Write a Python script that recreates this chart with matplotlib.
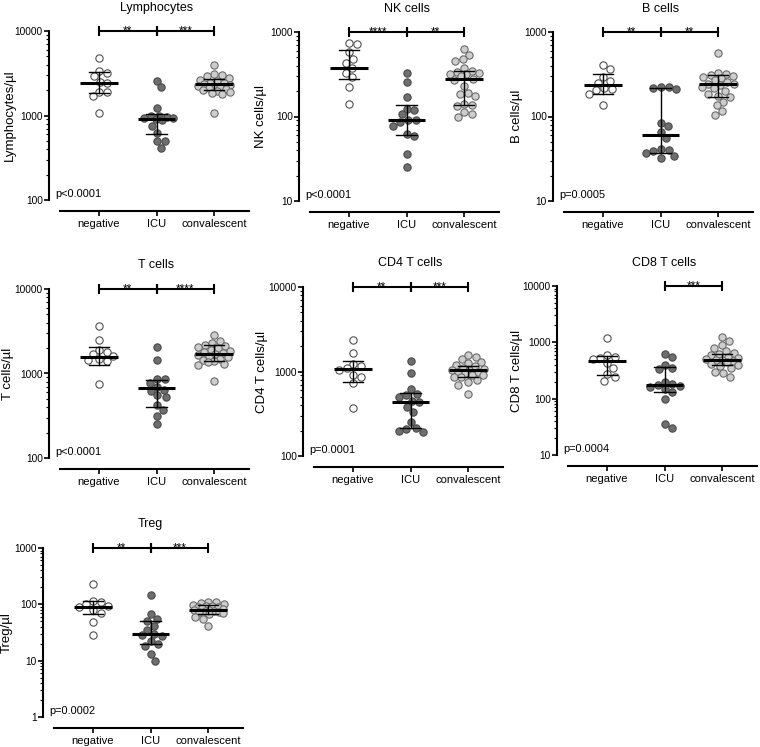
import numpy as np
import matplotlib
matplotlib.use("Agg")
import matplotlib.pyplot as plt
from matplotlib.ticker import LogLocator, NullFormatter, FuncFormatter

plt.rcParams['font.family'] = ['Liberation Sans', 'DejaVu Sans']

groups = ["negative", "ICU", "convalescent"]

titles = ["Lymphocytes", "NK cells", "B cells", "T cells", "CD4 T cells", "CD8 T cells", "Treg"]
ylabels = ["Lymphocytes/µl", "NK cells/µl", "B cells/µl", "T cells/µl",
           "CD4 T cells/µl", "CD8 T cells/µl", "Treg/µl"]
pvalues = ["p<0.0001", "p<0.0001", "p=0.0005", "p<0.0001", "p=0.0001", "p=0.0004", "p=0.0002"]
ylims = [(100, 10000), (10, 1000), (10, 1000), (100, 10000), (100, 10000), (10, 10000), (1, 1000)]
signif = [
    [(0, 1, "**"), (1, 2, "***")],
    [(0, 1, "****"), (1, 2, "**")],
    [(0, 1, "**"), (1, 2, "**")],
    [(0, 1, "**"), (1, 2, "****")],
    [(0, 1, "**"), (1, 2, "***")],
    [(1, 2, "***")],
    [(0, 1, "**"), (1, 2, "***")],
]

# ---- data (cells/µl) ----
lymph_neg = [4810, 3400, 3200, 2900, 2500, 2400, 1920, 1920, 1710, 1060]
lymph_icu = [2580, 2150, 1220, 1000, 980, 960, 940, 930, 900, 880, 750, 620, 500, 500, 417]
lymph_conv = [4000, 3100, 3000, 2900, 2750, 2650, 2550, 2450, 2400, 2350, 2300, 2250,
              2200, 2150, 2100, 2050, 2000, 1950, 1900, 1850, 1800, 1080]

nk_neg = [740, 725, 577, 480, 427, 372, 330, 295, 221, 139]
nk_icu = [324, 258, 171, 124, 118, 106, 92, 90, 86, 78, 62, 58, 36, 25]
nk_conv = [627, 536, 480, 458, 372, 345, 339, 330, 320, 315, 300, 280, 270, 229,
           190, 187, 174, 140, 136, 132, 113, 106, 100]

b_neg = [407, 361, 295, 265, 250, 215, 209, 205, 184, 136]
b_icu = [225, 222, 218, 212, 83, 78, 65, 56, 41, 40, 39, 37, 34, 32]
b_conv = [571, 330, 320, 310, 300, 290, 285, 270, 255, 245, 240, 235, 225, 215,
          200, 185, 175, 170, 150, 136, 116, 103]

t_neg = [3650, 2500, 1900, 1800, 1700, 1600, 1500, 1450, 1400, 760]
t_icu = [2070, 1440, 870, 850, 773, 700, 645, 620, 552, 527, 421, 366, 311, 250]
t_conv = [2850, 2440, 2300, 2200, 2100, 2050, 2000, 1900, 1850, 1800, 1750, 1700,
          1650, 1600, 1550, 1500, 1450, 1400, 1350, 1300, 1250, 811]

cd4_neg = [2370, 1670, 1230, 1150, 1100, 1050, 900, 850, 730, 372]
cd4_icu = [1330, 950, 620, 540, 520, 500, 450, 430, 380, 330, 250, 215, 210, 200, 190]
cd4_conv = [1580, 1500, 1400, 1300, 1250, 1200, 1150, 1100, 1080, 1050, 1030, 1000,
            980, 950, 920, 900, 870, 850, 800, 750, 700, 535]

cd8_neg = [1180, 600, 560, 530, 500, 430, 350, 270, 240, 202]
cd8_icu = [620, 560, 400, 350, 330, 200, 180, 175, 170, 160, 150, 130, 100, 35, 30]
cd8_conv = [1250, 1050, 900, 800, 700, 650, 620, 600, 550, 520, 500, 490, 480, 460,
            440, 420, 400, 380, 350, 300, 280, 240]

treg_neg = [226, 115, 110, 100, 92, 88, 78, 70, 49, 29]
treg_icu = [144, 66, 56, 50, 42, 35, 30, 28, 27, 22, 20, 18, 13, 10]
treg_conv = [112, 108, 105, 100, 98, 95, 92, 90, 88, 85, 82, 80, 78, 76, 75, 74,
             72, 70, 66, 60, 55, 42]

# median and interquartile range per group (negative, ICU, convalescent)
medians = [[2420, 908, 2360], [372, 90, 277], [235, 60, 240], [1585, 674, 1695],
           [1070, 430, 1030], [462, 177, 487], [90, 30, 80]]
q1s = [[1870, 596, 2010], [277, 61, 138], [184, 37, 171], [1260, 401, 1410],
       [757, 215, 868], [265, 131, 404], [66, 19.5, 68]]
q3s = [[3240, 1050, 2700], [615, 136, 345], [315, 215, 309], [2080, 849, 2170],
       [1330, 560, 1170], [566, 362, 622], [115, 51, 96]]

panel_data = [
    (lymph_neg, lymph_icu, lymph_conv),
    (nk_neg, nk_icu, nk_conv),
    (b_neg, b_icu, b_conv),
    (t_neg, t_icu, t_conv),
    (cd4_neg, cd4_icu, cd4_conv),
    (cd8_neg, cd8_icu, cd8_conv),
    (treg_neg, treg_icu, treg_conv),
]

# ---- layout (pixels) ----
W, H = 760, 747
DPI = 100
panel_pos = [(49, 31), (299, 32), (553, 32), (49, 289), (303, 287), (557, 286), (43, 548)]
label_off = [33, 32, 30, 35, 35, 34, 30]
AX_W = 200
AX_H = 169
CAT0 = 50.0
CAT_STEP = 57.5

face = ["white", "#6e6e6e", "#cdcdcd"]
edge = ["#505050", "#4a4a4a", "#6a6a6a"]

MARK_PX = 8.0
DIAM = 7.6
MAXOFF = 16.0


def swarm(vals, ylo, yhi, height_px):
    ys = (np.log10(vals) - np.log10(ylo)) / (np.log10(yhi) - np.log10(ylo)) * height_px
    order = np.argsort(-ys)
    placed = []
    xs = np.zeros(len(vals))
    cand = [0.0]
    k = 1
    while k * 0.5 <= MAXOFF:
        cand += [k * 0.5, -k * 0.5]
        k += 1
    for i in order:
        chosen = None
        best, bestd = 0.0, -1.0
        for c in cand:
            d = min([np.hypot(c - px, ys[i] - py) for px, py in placed] + [1e9])
            if d >= DIAM:
                chosen = c
                break
            if d > bestd + 0.3:
                best, bestd = c, d
        if chosen is None:
            chosen = best
        xs[i] = chosen
        placed.append((chosen, ys[i]))
    return xs


fig = plt.figure(figsize=(W / DPI, H / DPI), dpi=DPI)

for p in range(7):
    sx, top = panel_pos[p]
    ax = fig.add_axes([sx / W, 1 - (top + AX_H) / H, AX_W / W, AX_H / H])
    ylo, yhi = ylims[p]
    ax.set_yscale("log")
    ax.set_ylim(ylo, yhi)
    xl = (-CAT0 / CAT_STEP, (AX_W - CAT0) / CAT_STEP)
    ax.set_xlim(*xl)

    for g in range(3):
        vals = np.array(panel_data[p][g], dtype=float)
        offs = swarm(vals, ylo, yhi, AX_H) / CAT_STEP
        ax.plot(g + offs, vals, "o", ms=MARK_PX * 0.72 - 0.5, mfc=face[g], mec=edge[g],
                mew=0.8, zorder=3, clip_on=False)
        m, lo, hi = medians[p][g], q1s[p][g], q3s[p][g]
        ax.plot([g - 0.33, g + 0.33], [m, m], color="black", lw=2.2, zorder=5,
                solid_capstyle="butt")
        ax.plot([g, g], [lo, hi], color="black", lw=1.0, zorder=5)
        ax.plot([g - 0.18, g + 0.18], [lo, lo], color="black", lw=1.0, zorder=5)
        ax.plot([g - 0.18, g + 0.18], [hi, hi], color="black", lw=1.0, zorder=5)

    # significance bars
    for a, b, stars in signif[p]:
        ax.plot([a, b], [yhi, yhi], color="black", lw=1.5, clip_on=False, zorder=6)
        ax.plot([a, b], [yhi, yhi], ls="none", marker="|", ms=7, mew=1.5,
                color="black", clip_on=False, zorder=6)
        ax.annotate(stars, xy=((a + b) / 2, yhi), xytext=(0, -2.5),
                    textcoords="offset points", ha="center", va="baseline",
                    fontsize=8.5, annotation_clip=False)

    # spines
    for s in ["top", "right"]:
        ax.spines[s].set_visible(False)
    ax.spines["left"].set_linewidth(1.5)
    ax.spines["bottom"].set_linewidth(1.5)
    ax.spines["bottom"].set_position(("outward", 11 * 0.72))
    ax.spines["bottom"].set_bounds(-39 / CAT_STEP, xl[1])

    ax.set_xticks([0, 1, 2])
    ax.set_xticklabels(groups, fontsize=8)
    ax.tick_params(axis="x", length=3.5, width=1.2, pad=2)

    ax.yaxis.set_major_locator(LogLocator(base=10))
    ax.yaxis.set_minor_locator(LogLocator(base=10, subs=np.arange(2, 10)))
    ax.yaxis.set_major_formatter(FuncFormatter(lambda v, _: f"{v:g}"))
    ax.yaxis.set_minor_formatter(NullFormatter())
    ax.tick_params(axis="y", which="major", length=3.5, width=1.2, pad=1, labelsize=7.3)
    ax.tick_params(axis="y", which="minor", length=2, width=0.8)

    ax.set_ylabel(ylabels[p], fontsize=9.5)
    ax.yaxis.set_label_coords(-label_off[p] / AX_W, 0.5)

    ax.annotate(titles[p], xy=(1, 1), xycoords=ax.get_xaxis_transform(),
                xytext=(0, 23.5 * 0.72), textcoords="offset points",
                ha="center", va="center", fontsize=9, annotation_clip=False)
    ax.annotate(pvalues[p], xy=(0, 0), xycoords="axes fraction",
                xytext=(4.5, 2), textcoords="offset points",
                ha="left", va="baseline", fontsize=7.9)
    ax.patch.set_visible(False)

fig.savefig("out.png", dpi=DPI)
